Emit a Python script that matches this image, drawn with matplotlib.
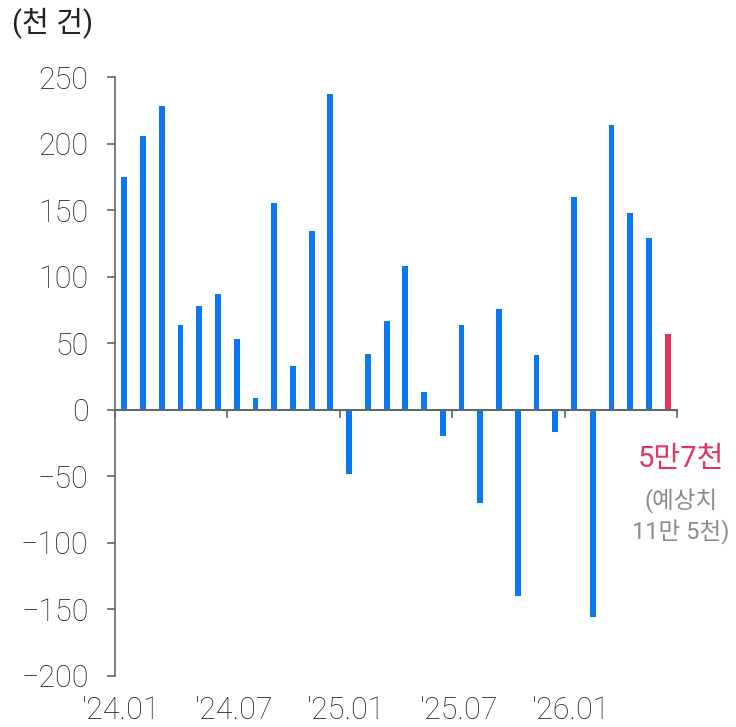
import matplotlib.pyplot as plt
import numpy as np

plt.rcParams['font.family'] = ['Roboto', 'Noto Sans CJK KR', 'DejaVu Sans']
plt.rcParams['font.weight'] = 'light'

# monthly change, thousands ('24.01 .. '26.06)
values = [175, 206, 228, 64, 78, 87, 53, 9, 155, 33, 134, 237,
          -48, 42, 67, 108, 13, -20, 64, -70, 76, -140, 41, -17,
          160, -156, 214, 148, 129, 57]
tick_labels = ["'24.01", "'24.07", "'25.01", "'25.07", "'26.01"]
yticks = [-200, -150, -100, -50, 0, 50, 100, 150, 200, 250]

blue = '#0b78f2'
red = '#e5335f'
gray = '#666666'
txt = '#222222'

fig = plt.figure(figsize=(7.36, 7.27), dpi=100)
ax = fig.add_axes([0.1562, 0.0702, 0.7636, 0.8238])

x = np.arange(len(values))
colors = [blue] * (len(values) - 1) + [red]
ax.bar(x, values, width=0.31, color=colors, zorder=2)

ax.set_xlim(-0.5, len(values) - 0.5)
ax.set_ylim(-200, 250)

# spines
for s in ['top', 'right']:
    ax.spines[s].set_visible(False)
ax.spines['left'].set_color(gray)
ax.spines['left'].set_linewidth(1.2)
ax.spines['bottom'].set_position(('data', 0))
ax.spines['bottom'].set_color(gray)
ax.spines['bottom'].set_linewidth(1.5)
ax.spines['bottom'].set_zorder(3)

ax.set_yticks(yticks)
ax.set_yticklabels([str(v).replace('-', '\u2212') for v in yticks])
ax.tick_params(axis='y', length=6, width=1.2, color=gray, pad=13,
               labelsize=22, labelcolor=txt)

xt = [-0.5 + 6 * i for i in range(len(tick_labels))] + [len(values) - 0.5]
ax.set_xticks(xt)
ax.set_xticklabels([''] * len(xt))
ax.tick_params(axis='x', length=6, width=1.2, color=gray, direction='out')

for i, lab in enumerate(tick_labels):
    ax.text(-0.5 + 6 * i + 0.35, -226, lab, ha='center', va='center',
            fontsize=22, color=txt, clip_on=False)

fig.text(0.016, 0.969, '(천 건)', ha='left', va='center', fontsize=21,
         color=txt, weight='normal')

ax.text(29.7, -37, '5만7천', ha='center', va='center', weight='normal',
        fontsize=21, color=red, clip_on=False)
ax.text(29.7, -69, '(예상치', ha='center', va='center', weight='normal',
        fontsize=17, color='#8c8c8c', clip_on=False)
ax.text(29.7, -92, '11만 5천)', ha='center', va='center', weight='normal',
        fontsize=17, color='#8c8c8c', clip_on=False)

fig.savefig('out.png', dpi=100)
